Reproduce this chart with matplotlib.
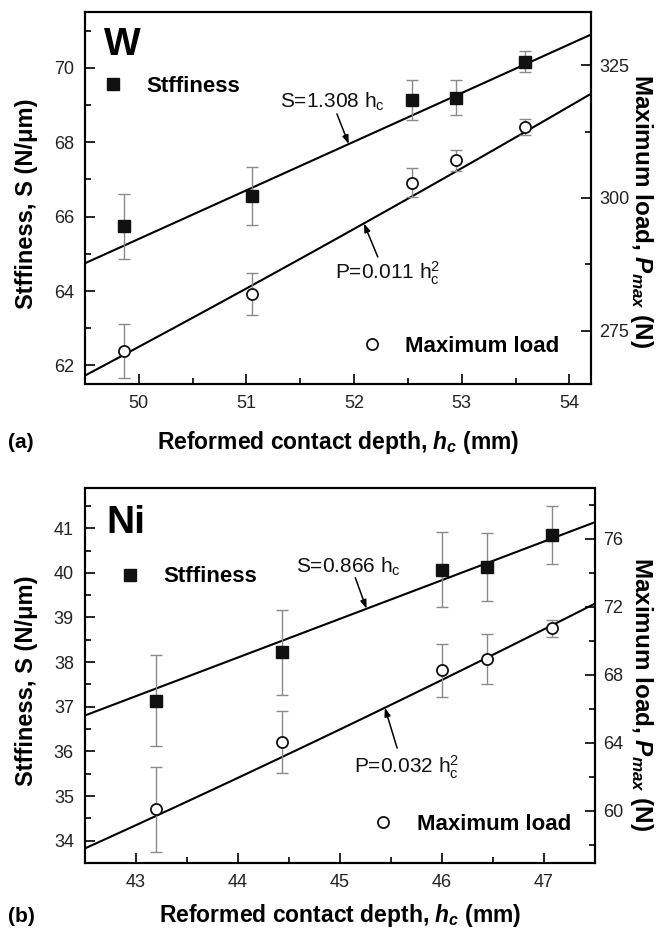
import numpy as np
import matplotlib
matplotlib.use('Agg')
import matplotlib.pyplot as plt
from matplotlib.ticker import MultipleLocator

# ---- data ----
# (a) W
w_depth = [49.86, 51.05, 52.54, 52.95, 53.59]
w_stiff = [65.74, 66.56, 69.13, 69.20, 70.16]
w_stiff_err = [0.88, 0.78, 0.53, 0.48, 0.28]
w_load = [271.2, 281.9, 302.9, 307.1, 313.3]
w_load_err = [5.0, 3.9, 2.8, 2.0, 1.5]
w_s_coef = 1.308      # S = a * hc
w_p_coef = 0.1088     # P = k * hc^2 (as drawn)

# (b) Ni
ni_depth = [43.20, 44.43, 46.00, 46.44, 47.08]
ni_stiff = [37.14, 38.22, 40.07, 40.13, 40.84]
ni_stiff_err = [1.03, 0.95, 0.84, 0.77, 0.65]
ni_load = [60.1, 64.06, 68.27, 68.96, 70.75]
ni_load_err = [2.5, 1.84, 1.57, 1.48, 0.5]
ni_s_coef = 0.866
ni_p_coef = 0.032

plt.rcParams['font.family'] = ['Liberation Sans', 'DejaVu Sans']
plt.rcParams['mathtext.fontset'] = 'custom'
plt.rcParams['mathtext.rm'] = 'Liberation Sans'
plt.rcParams['mathtext.it'] = 'Liberation Sans:italic:bold'
plt.rcParams['mathtext.bf'] = 'Liberation Sans:bold'

TICK_FS = 13
LABEL_FS = 16
ANN_FS = 15
ERR_COLOR = '#8a8a8a'

fig = plt.figure(figsize=(6.56, 9.30), dpi=100)
ax_a = fig.add_axes([85 / 656, 1 - 384 / 930, 506 / 656, 372 / 930])
ax_b = fig.add_axes([85 / 656, 1 - 863 / 930, 510 / 656, 375 / 930])


def style_axes(ax, ax2):
    for a in (ax, ax2):
        for sp in a.spines.values():
            sp.set_linewidth(1.5)
    ax.tick_params(axis='both', which='both', direction='in', top=False, right=False,
                   labelsize=TICK_FS, labelcolor='#222222', width=1.2)
    ax.tick_params(which='major', length=7, pad=8)
    ax.tick_params(which='minor', length=4)
    ax2.tick_params(axis='y', which='both', direction='in', labelsize=TICK_FS,
                    labelcolor='#222222', width=1.2)
    ax2.tick_params(which='major', length=7, pad=6)
    ax2.tick_params(which='minor', length=4)


def panel(ax, depth, stiff, stiff_err, load, load_err, s_coef, p_coef,
          xlim, ylim, ylim2, ymaj, ymin, y2maj, y2min, letter, ann):
    ax2 = ax.twinx()
    ax.set_xlim(*xlim)
    ax.set_ylim(*ylim)
    ax2.set_ylim(*ylim2)

    h = np.linspace(xlim[0], xlim[1], 100)
    ax.plot(h, s_coef * h, color='black', lw=1.5, zorder=2)
    ax2.plot(h, p_coef * h ** 2, color='black', lw=1.5, zorder=2)

    ax.errorbar(depth, stiff, yerr=stiff_err, fmt='none', ecolor=ERR_COLOR,
                elinewidth=1, capsize=4, capthick=1, zorder=3)
    sq, = ax.plot(depth, stiff, ls='none', marker='s', ms=9, color='#111111', zorder=4)
    ax2.errorbar(depth, load, yerr=load_err, fmt='none', ecolor=ERR_COLOR,
                 elinewidth=1, capsize=4, capthick=1, zorder=3)
    ci, = ax2.plot(depth, load, ls='none', marker='o', ms=8, mfc='white',
                   mec='#111111', mew=1.3, zorder=4)

    ax.xaxis.set_major_locator(MultipleLocator(1))
    ax.xaxis.set_minor_locator(MultipleLocator(0.5))
    ax.yaxis.set_major_locator(MultipleLocator(ymaj))
    ax.yaxis.set_minor_locator(MultipleLocator(ymin))
    ax2.yaxis.set_major_locator(MultipleLocator(y2maj))
    ax2.yaxis.set_minor_locator(MultipleLocator(y2min))
    style_axes(ax, ax2)

    pos = ax.get_position()
    width_px = pos.width * 656
    ax.set_xlabel(r'Reformed contact depth, $h_c$ (mm)', fontsize=16.5,
                  fontweight='bold', labelpad=ann['xpad'])
    ax.set_ylabel('Stffiness, S (N/μm)', fontsize=17, fontweight='bold')
    ax.yaxis.set_label_coords((38 - pos.x0 * 656) / width_px, 0.485)
    ax2.set_ylabel(r'Maximum load, $P_{max}$ (N)', fontsize=17.5, fontweight='bold',
                   rotation=270)
    # anchor the right edge of the rotated label close to the figure border
    ax2.yaxis.set_label_coords(1 + (655 - pos.x1 * 656) / width_px, ann['ry'])

    ax.legend([sq], ['Stffiness'], loc='center left', bbox_to_anchor=ann['leg_s'],
              frameon=False, handlelength=1.0, handletextpad=1.0, borderpad=0,
              borderaxespad=0, prop={'weight': 'bold', 'size': LABEL_FS})
    ax2.legend([ci], ['Maximum load'], loc='center left', bbox_to_anchor=ann['leg_p'],
               frameon=False, handlelength=1.0, handletextpad=1.0, borderpad=0,
               borderaxespad=0, prop={'weight': 'bold', 'size': LABEL_FS})

    ax.text(ann['letter'][0], ann['letter'][1], letter, transform=ax.transAxes,
            fontsize=28, fontweight='bold', va='baseline', ha='left')

    # fit equations with arrows
    sx, sy = ann['s_text']
    ax.text(sx, sy, 'S=%.3f h$_\\mathregular{c}$' % s_coef, fontsize=ANN_FS,
            va='baseline', ha='left', color='#111111')
    tx, (ax0, ay0) = ann['s_arrow']
    ax.annotate('', xy=(tx, s_coef * tx), xytext=(ax0, ay0),
                arrowprops=dict(arrowstyle='-|>,head_length=0.5,head_width=0.18',
                                color='black', lw=1.1, shrinkA=0, shrinkB=0))
    px, py = ann['p_text']
    ax2.text(px, py, ann['p_label'], fontsize=ANN_FS, va='baseline', ha='left',
             color='#111111')
    tx, (ax0, ay0) = ann['p_arrow']
    ax2.annotate('', xy=(tx, p_coef * tx ** 2), xytext=(ax0, ay0),
                 arrowprops=dict(arrowstyle='-|>,head_length=0.5,head_width=0.18',
                                 color='black', lw=1.1, shrinkA=0, shrinkB=0))
    return ax2


panel(ax_a, w_depth, w_stiff, w_stiff_err, w_load, w_load_err, w_s_coef, w_p_coef,
      (49.5, 54.2), (61.5, 71.5), (265, 335), 2, 1, 25, 12.5, 'W',
      dict(leg_s=(0.034, 0.801), leg_p=(0.545, 0.102), letter=(0.038, 0.884), xpad=12,
           ry=0.465,
           s_text=(51.31, 68.93), s_arrow=(51.95, (51.84, 68.76)),
           p_text=(51.82, 284.7), p_arrow=(52.09, (52.22, 288.9)),
           p_label='P=0.011 h$_\\mathregular{c}^\\mathregular{2}$'))

panel(ax_b, ni_depth, ni_stiff, ni_stiff_err, ni_load, ni_load_err, ni_s_coef, ni_p_coef,
      (42.5, 47.5), (33.5, 41.9), (56.94, 79.0), 1, 0.5, 4, 2, 'Ni',
      dict(leg_s=(0.067, 0.763), leg_p=(0.563, 0.104), letter=(0.042, 0.88), xpad=8,
           ry=0.45,
           s_text=(44.57, 40.01), s_arrow=(45.26, (45.15, 39.89)),
           p_text=(45.14, 62.2), p_arrow=(45.44, (45.56, 63.7)),
           p_label='P=0.032 h$_\\mathregular{c}^\\mathregular{2}$'))

fig.text(8 / 656, 1 - 442 / 930, '(a)', fontsize=15, fontweight='bold', va='center')
fig.text(8 / 656, 1 - 916 / 930, '(b)', fontsize=15, fontweight='bold', va='center')

fig.savefig('out.png', dpi=100)
